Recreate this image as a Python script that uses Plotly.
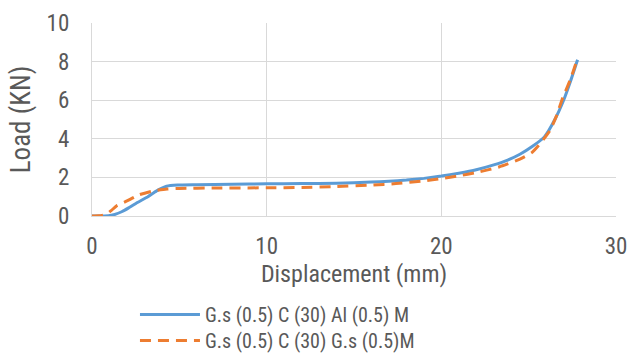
import plotly.graph_objects as go

name_a = "G.s (0.5) C (30) Al (0.5) M"
name_b = "G.s (0.5) C (30) G.s (0.5)M"

x_a = [0, 0.5, 0.95, 1.3, 1.7, 2.1, 2.6, 3.2, 3.7, 4.27, 4.9, 6, 8, 10, 12, 14, 16, 17, 18, 19, 20, 21, 22, 23, 23.8, 24.5, 25.2, 25.9, 26.5, 27.0, 27.4, 27.8]
y_a = [0, 0, 0.01, 0.08, 0.22, 0.42, 0.7, 1.0, 1.3, 1.54, 1.6, 1.62, 1.65, 1.67, 1.68, 1.7, 1.76, 1.8, 1.86, 1.95, 2.07, 2.22, 2.4, 2.65, 2.9, 3.2, 3.6, 4.1, 5.0, 6.0, 7.0, 8.1]

x_b = [0, 0.4, 0.8, 1.1, 1.4, 2.0, 2.7, 3.5, 4.3, 5.0, 7, 10, 12, 14, 16, 17.4, 19, 20, 21, 22, 23.3, 24.5, 25.2, 25.7, 26.2, 26.6, 26.9, 27.4, 27.7]
y_b = [0, 0.01, 0.08, 0.28, 0.52, 0.78, 1.1, 1.3, 1.4, 1.43, 1.45, 1.46, 1.48, 1.53, 1.6, 1.68, 1.82, 1.94, 2.08, 2.25, 2.54, 2.95, 3.3, 3.8, 4.4, 5.2, 6.0, 7.1, 7.9]

x_ticks = [0, 10, 20, 30]
y_ticks = [0, 2, 4, 6, 8, 10]

FONT = "Liberation Sans Narrow, Roboto Condensed, Arial Narrow, Roboto, sans-serif"
GRAY = "#595959"

fig = go.Figure()
fig.add_trace(go.Scatter(x=x_a, y=y_a, mode="lines", name=name_a, legend="legend",
                         line=dict(color="#5B9BD5", width=3, shape="spline", smoothing=0.5)))
fig.add_trace(go.Scatter(x=x_b, y=y_b, mode="lines", name=name_b, legend="legend2",
                         line=dict(color="#ED7D31", width=3, dash="11px,7px", shape="spline", smoothing=0.5)))

leg_common = dict(orientation="v", x=0.082, xanchor="left", yanchor="top",
                  font=dict(size=20, color=GRAY), itemwidth=60, bgcolor="rgba(0,0,0,0)")

fig.update_layout(
    width=629, height=353,
    margin=dict(l=92, r=13, t=23, b=137, autoexpand=False),
    paper_bgcolor="white", plot_bgcolor="white",
    font=dict(family=FONT, color=GRAY, size=20),
    xaxis=dict(range=[0, 30], tickvals=x_ticks, showgrid=True, gridcolor="#d9d9d9", gridwidth=1.3,
               zeroline=False, showline=True, linecolor="#d9d9d9", linewidth=1.3,
               ticks="", tickfont=dict(size=23), ticklabelstandoff=9,
               title=dict(text="Displacement (mm)", font=dict(size=24), standoff=0)),
    yaxis=dict(range=[0, 10], tickvals=y_ticks, showgrid=True, gridcolor="#d9d9d9", gridwidth=1.3,
               zeroline=False, showline=True, linecolor="#d9d9d9", linewidth=1.3,
               ticks="", tickfont=dict(size=23), ticklabelstandoff=17,
               title=dict(text="Load (KN)", font=dict(size=27), standoff=8)),
    showlegend=True,
    legend=dict(y=-0.409, **leg_common),
    legend2=dict(y=-0.544, **leg_common),
)

fig.write_html("out.html")
